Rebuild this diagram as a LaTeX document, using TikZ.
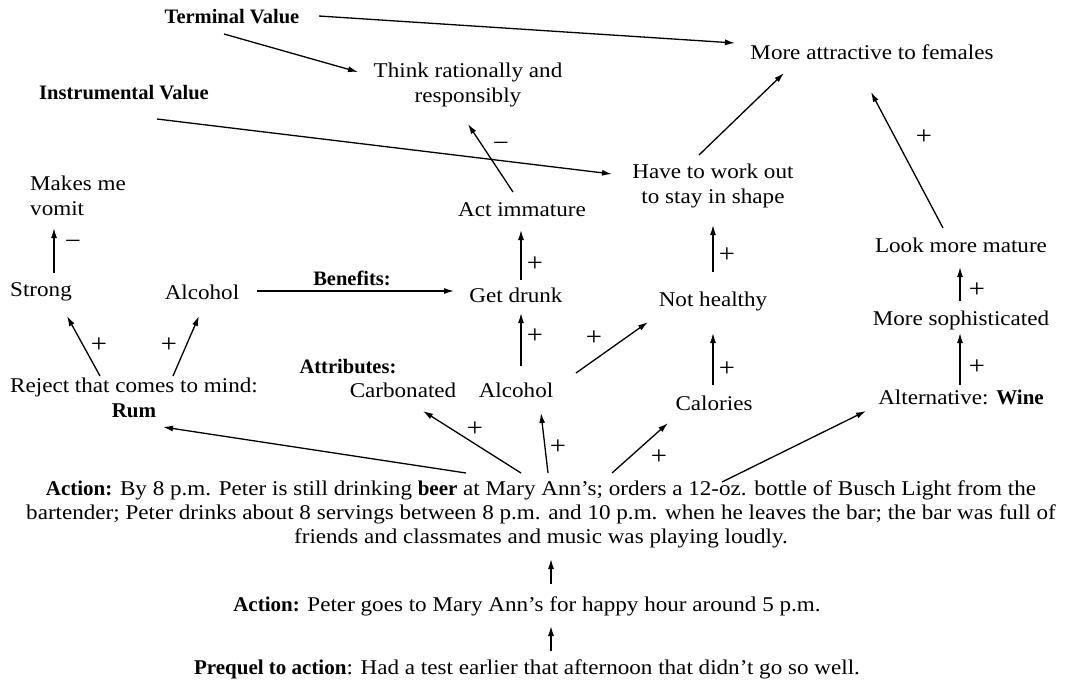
\documentclass[tikz,border=0pt]{standalone}
\usepackage{fontspec}
\setmainfont{Liberation Serif}[FakeStretch=1.1, BoldFeatures={FakeStretch=1.0}]
\usetikzlibrary{arrows.meta}
\begin{document}
\begin{tikzpicture}[x=1pt,y=-1pt,
  every node/.style={inner sep=0pt, font=\fontsize{21}{25}\selectfont},
  txt/.style={align=center},
  hdr/.style={font=\fontsize{20.5}{25}\selectfont\bfseries},
  sign/.style={inner sep=0pt, font=\fontsize{26}{26}\selectfont},
  arr/.style={-{Latex[length=10pt,width=6pt]}, line width=1.3pt}]
\useasboundingbox[fill=white] (0,0) rectangle (1074,681);

% value labels
\node[hdr] (term) at (232,17) {Terminal Value};
\node[hdr] (instr) at (124,93) {Instrumental Value};

% consequences
\node[txt] (think) at (468,85) {Think rationally and\\responsibly};
\node[txt] (attr) at (872,52) {More attractive to females};
\node[txt, anchor=west, align=left] (makes) at (30,196) {Makes me\\vomit};
\node[txt] (actimm) at (522,210) {Act immature};
\node[txt] (work) at (713,186) {Have to work out\\to stay in shape};
\node[txt] (look) at (961,245) {Look more mature};
\node[txt] (strong) at (41,292) {Strong};
\node[txt] (alcL) at (202,292) {Alcohol};
\node[hdr] (benefits) at (352,278) {Benefits:};
\node[txt] (drunk) at (516,295) {Get drunk};
\node[txt] (nothealthy) at (713,301) {Not healthy};
\node[txt] (soph) at (961,320) {More sophisticated};

% attributes
\node[hdr] (attributes) at (348,367) {Attributes:};
\node[txt] (carb) at (403,390) {Carbonated};
\node[txt] (alcM) at (516,390) {Alcohol};
\node[txt] (calories) at (714,403) {Calories};
\node[txt] (wine) at (961,397) {Alternative: \textbf{Wine}};
\node[txt] (reject) at (134,398) {Reject that comes to mind:\\\textbf{Rum}};

% actions
\node[txt, font=\fontsize{21}{24}\selectfont] (action) at (541,514) {\textbf{Action:} By 8 p.m. Peter is still drinking \textbf{beer} at Mary Ann’s; orders a 12-oz. bottle of Busch Light from the\\bartender; Peter drinks about 8 servings between 8 p.m. and 10 p.m. when he leaves the bar; the bar was full of\\friends and classmates and music was playing loudly.};
\node[txt] (action2) at (527,606) {\textbf{Action:} Peter goes to Mary Ann’s for happy hour around 5 p.m.};
\node[txt] (prequel) at (527,669) {\textbf{Prequel to action}: Had a test earlier that afternoon that didn’t go so well.};

% connectors
\draw[arr] ([shift={(87,-1)}]term.center) -- ([shift={(-137,-9)}]attr.center);
\draw[arr] ([shift={(-8,17)}]term.center) -- ([shift={(-110,-13)}]think.center);
\draw[arr] ([shift={(33,26)}]instr.center) -- ([shift={(-101,-12)}]work.center);
\draw[arr] ([shift={(-9,-18)}]actimm.center) -- ([shift={(0,39)}]think.center);
\draw[arr] ([shift={(-14,-31)}]work.center) -- ([shift={(-88,21)}]attr.center);
\draw[arr] ([shift={(-18,-17)}]look.center) -- ([shift={(-1,40)}]attr.center);
\draw[arr] ([shift={(0,-29)}]nothealthy.center) -- ([shift={(0,39)}]work.center);
\draw[arr] ([shift={(5,-15)}]drunk.center) -- ([shift={(-1,20)}]actimm.center);
\draw[arr] ([shift={(55,-1)}]alcL.center) -- ([shift={(-62,-4)}]drunk.center);
\draw[arr] ([shift={(13,-19)}]strong.center) -- ([shift={(24,32)}]makes.west);
\draw[arr] ([shift={(5,-24)}]alcM.center) -- ([shift={(5,18)}]drunk.center);
\draw[arr] ([shift={(60,-17)}]alcM.center) -- ([shift={(-65,21)}]nothealthy.center);
\draw[arr] ([shift={(-1,-18)}]calories.center) -- ([shift={(0,32)}]nothealthy.center);
\draw[arr] ([shift={(-1,-19)}]soph.center) -- ([shift={(-1,22)}]look.center);
\draw[arr] ([shift={(-1,-12)}]wine.center) -- ([shift={(-1,13)}]soph.center);
\draw[arr] ([shift={(-34,-22)}]reject.center) -- ([shift={(26,24)}]strong.center);
\draw[arr] ([shift={(39,-22)}]reject.center) -- ([shift={(-3,24)}]alcL.center);
\draw[arr] ([shift={(-75,-41)}]action.center) -- ([shift={(29,29)}]reject.center);
\draw[arr] ([shift={(-20,-41)}]action.center) -- ([shift={(20,21)}]carb.center);
\draw[arr] ([shift={(7,-41)}]action.center) -- ([shift={(25,23)}]alcM.center);
\draw[arr] ([shift={(71,-41)}]action.center) -- ([shift={(-46,20)}]calories.center);
\draw[arr] ([shift={(181,-32)}]action.center) -- ([shift={(-95,14)}]wine.center);
\draw[arr] ([shift={(24,-22)}]action2.center) -- ([shift={(10,45)}]action.center);
\draw[arr] ([shift={(24,-18)}]prequel.center) -- ([shift={(24,20)}]action2.center);

% link signs
\node[sign] (s1) at (501,147) {−};
\node[sign] (s2) at (924,137) {+};
\node[sign] (s3) at (727,255) {+};
\node[sign] (s4) at (535,264) {+};
\node[sign] (s5) at (73,245) {−};
\node[sign] (s6) at (535,336) {+};
\node[sign] (s7) at (594,338) {+};
\node[sign] (s8) at (727,369) {+};
\node[sign] (s9) at (977,290) {+};
\node[sign] (s10) at (977,367) {+};
\node[sign] (s11) at (99,345) {+};
\node[sign] (s12) at (169,345) {+};
\node[sign] (s13) at (475,429) {+};
\node[sign] (s14) at (558,447) {+};
\node[sign] (s15) at (659,457) {+};
\end{tikzpicture}
\end{document}
